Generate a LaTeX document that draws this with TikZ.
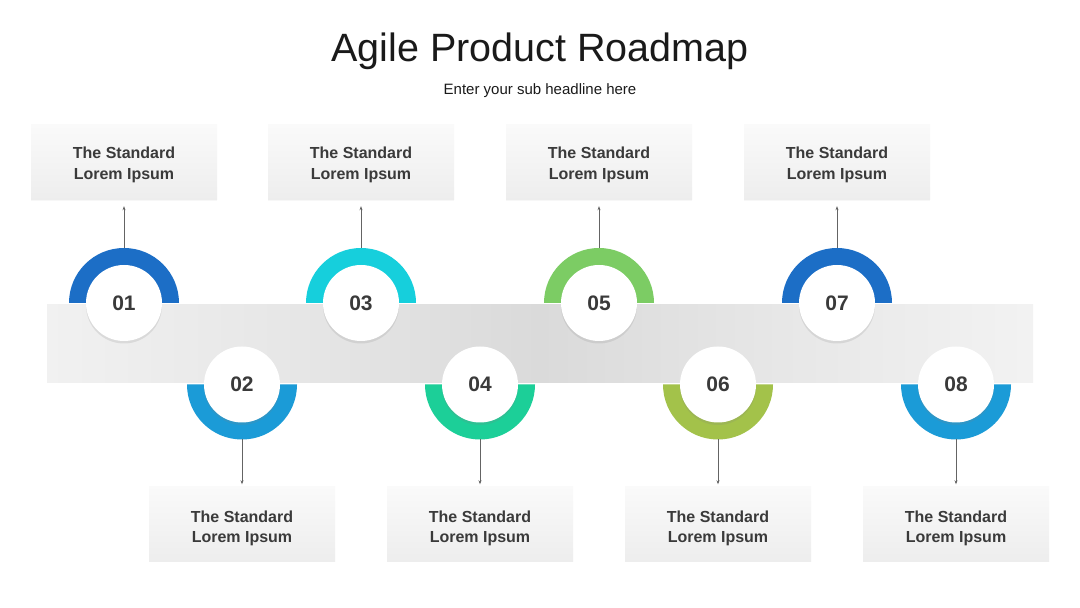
\documentclass[tikz,border=0pt]{standalone}
\usepackage{fontspec}
\setmainfont{Liberation Sans}
\usetikzlibrary{shadows,arrows.meta}
\definecolor{cA}{RGB}{28,110,198}
\definecolor{cB}{RGB}{27,155,215}
\definecolor{cC}{RGB}{22,207,220}
\definecolor{cD}{RGB}{28,207,152}
\definecolor{cE}{RGB}{124,204,100}
\definecolor{cF}{RGB}{163,194,74}
\definecolor{txt}{RGB}{58,58,58}
\definecolor{ttl}{RGB}{26,26,26}
\definecolor{arr}{RGB}{100,100,100}
\pgfdeclarehorizontalshading{bandshade}{100bp}{%
  rgb(0bp)=(0.945,0.945,0.945);
  rgb(25bp)=(0.945,0.945,0.945);
  rgb(37bp)=(0.905,0.905,0.905);
  rgb(50bp)=(0.855,0.855,0.855);
  rgb(62bp)=(0.905,0.905,0.905);
  rgb(75bp)=(0.95,0.95,0.95);
  rgb(100bp)=(0.95,0.95,0.95)}
\newcommand{\stdtext}[1]{\raisebox{-#1}[0pt][0pt]{\begin{tabular}{@{}c@{}}The Standard\\Lorem Ipsum\end{tabular}}}
\tikzset{
  infobox/.style={rectangle, minimum width=186pt, minimum height=75pt, inner sep=0pt,
    top color=white!98!black, bottom color=white!93!black, align=center,
    font=\bfseries\fontsize{16}{20.5}\selectfont, text=txt,
    drop shadow={shadow xshift=0pt, shadow yshift=-1pt, opacity=0.06}},
  numdisc/.style={circle, fill=white, minimum size=76pt, inner sep=0pt,
    font=\bfseries\fontsize{21}{24}\selectfont, text=txt,
    drop shadow={shadow xshift=0pt, shadow yshift=-2.5pt, opacity=0.18}},
  pointer/.style={draw=arr, line width=0.6pt, -{Stealth[length=4pt,width=3pt]}},
}
\begin{document}
\begin{tikzpicture}[x=1pt,y=1pt]
\useasboundingbox (0,0) rectangle (1080,608);
\fill[white] (0,0) rectangle (1080,608);
% title
\node[anchor=base, text=ttl, font=\fontsize{39.5}{46}\selectfont] (title) at (540,546.5) {Agile Product Roadmap};
\node[anchor=base, text=ttl, font=\fontsize{15}{18}\selectfont] (sub) at (540,513.5) {Enter your sub headline here};
% band
\shade[shading=bandshade] (47,225) rectangle (1033,303);
\node[inner sep=0pt, minimum width=986pt, minimum height=78pt] (band) at (540,264) {};
% upper rings
\foreach \cx/\col in {124/cA,361/cC,599/cE,837/cA}{
  \fill[\col] (\cx-55,305) arc[start angle=180,end angle=0,radius=55pt] -- (\cx+36,305) arc[start angle=0,end angle=180,radius=36pt] -- cycle;
}
% lower rings
\foreach \cx/\col in {242/cB,480/cD,718/cF,956/cB}{
  \fill[\col] (\cx-55,223.5) arc[start angle=180,end angle=360,radius=55pt] -- (\cx+36,223.5) arc[start angle=360,end angle=180,radius=36pt] -- cycle;
}
% number discs
\node[numdisc] (c1) at (124,305) {01};
\node[numdisc] (c3) at (361,305) {03};
\node[numdisc] (c5) at (599,305) {05};
\node[numdisc] (c7) at (837,305) {07};
\node[numdisc] (c2) at (242,223.5) {02};
\node[numdisc] (c4) at (480,223.5) {04};
\node[numdisc] (c6) at (718,223.5) {06};
\node[numdisc] (c8) at (956,223.5) {08};
% ring tips
\coordinate (r1) at (124,360);
\coordinate (r3) at (361,360);
\coordinate (r5) at (599,360);
\coordinate (r7) at (837,360);
\coordinate (r2) at (242,168.5);
\coordinate (r4) at (480,168.5);
\coordinate (r6) at (718,168.5);
\coordinate (r8) at (956,168.5);
% boxes
\node[infobox] (b1) at (124,445.5) {\stdtext{6.5pt}};
\node[infobox] (b3) at (361,445.5) {\stdtext{6.5pt}};
\node[infobox] (b5) at (599,445.5) {\stdtext{6.5pt}};
\node[infobox] (b7) at (837,445.5) {\stdtext{6.5pt}};
\node[infobox] (b2) at (242,84) {\stdtext{8.5pt}};
\node[infobox] (b4) at (480,84) {\stdtext{8.5pt}};
\node[infobox] (b6) at (718,84) {\stdtext{8.5pt}};
\node[infobox] (b8) at (956,84) {\stdtext{8.5pt}};
% connectors
\foreach \i in {1,3,5,7}{ \draw[pointer, shorten >=6pt] (r\i) -- (b\i.south); }
\foreach \i in {2,4,6,8}{ \draw[pointer, shorten >=2pt] (r\i) -- (b\i.north); }
\end{tikzpicture}
\end{document}
